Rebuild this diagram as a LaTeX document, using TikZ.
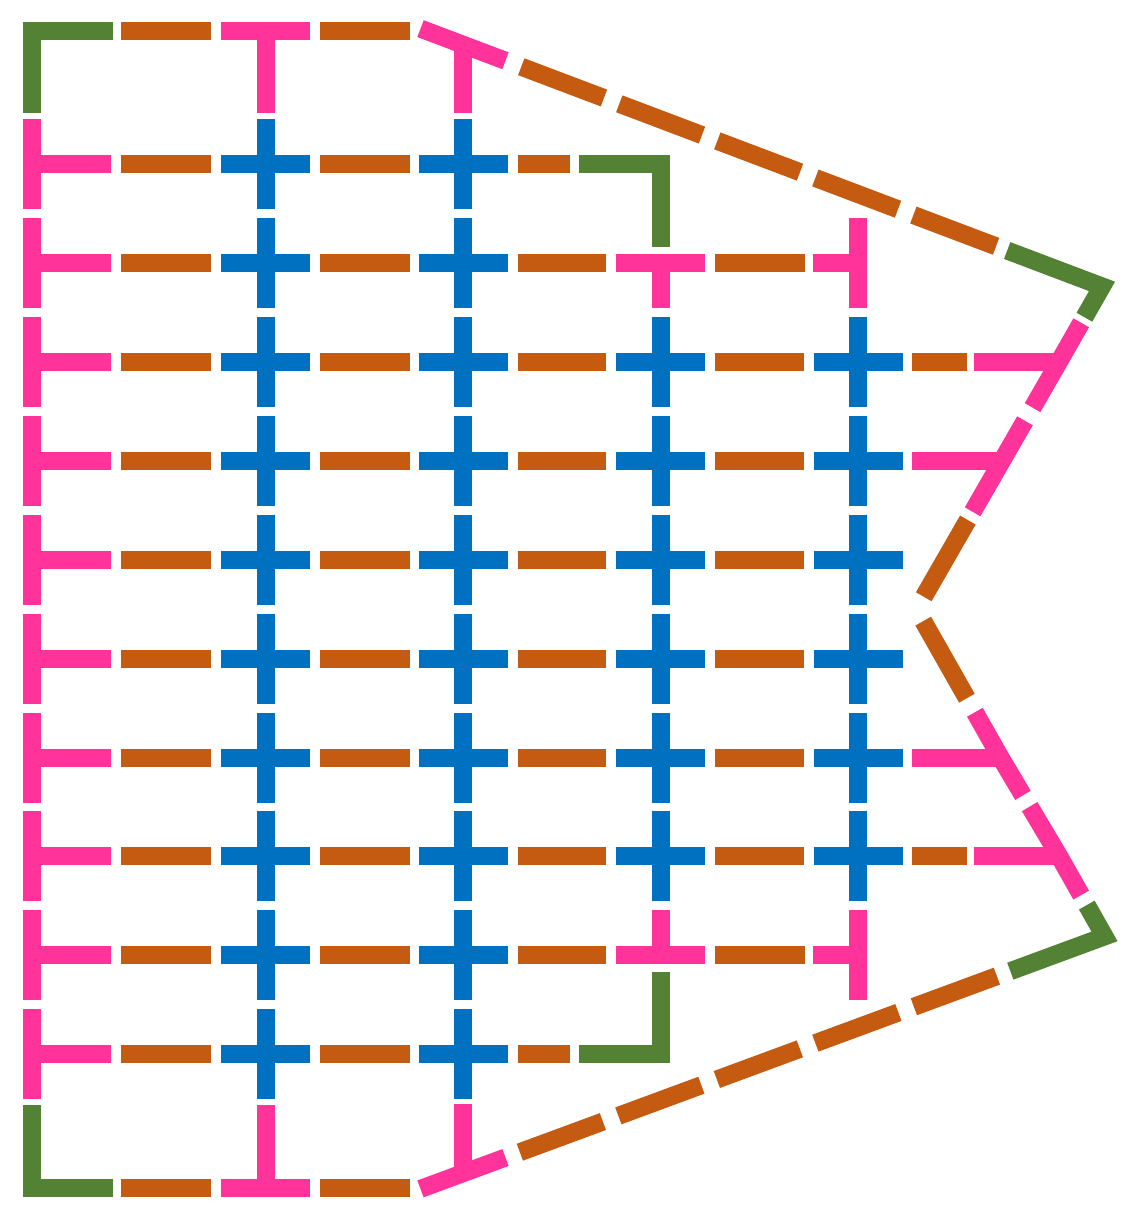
\documentclass[tikz,border=0pt]{standalone}
\usetikzlibrary{calc}
\definecolor{cgreen}{RGB}{84,130,53}
\definecolor{corange}{RGB}{197,90,17}
\definecolor{cpink}{RGB}{255,51,153}
\definecolor{cblue}{RGB}{0,112,192}
\begin{document}
\begin{tikzpicture}[x=1pt,y=-1pt,line cap=butt,line join=miter,miter limit=10,
  seg/.style={line width=18pt},
  gline/.style={seg,draw=cgreen},
  oline/.style={seg,draw=corange},
  pline/.style={seg,draw=cpink},
  bline/.style={seg,draw=cblue}]
\useasboundingbox (0,0) rectangle (1136,1227);
% boundary vertices
\coordinate (Vt) at (463,44.7);
\coordinate (TR) at (1102,286.4);
\coordinate (A) at (1059,361.7);
\coordinate (B) at (1002,460.65);
\coordinate (P) at (916.5,609.3);
\coordinate (C) at (1000.5,757.5);
\coordinate (D) at (1059.3,856.45);
\coordinate (BR) at (1104.5,936.4);
\coordinate (Vb) at (463,1173.2);
% columns 0..2, rows 1..10
\foreach \y in {163.8,262.75,361.7,460.65,559.6,658.55,757.5,856.45,955.4,1054.35} {
  \draw[pline] (31.5,\y-45) -- (31.5,\y+45);
  \draw[pline] (31.5,\y) -- (111,\y);
  \draw[oline] (121,\y) -- (211,\y);
  \draw[oline] (319.5,\y) -- (409.5,\y);
  \foreach \x in {265.5,463} {
    \draw[bline] (\x-44.5,\y) -- (\x+44.5,\y);
    \draw[bline] (\x,\y-45) -- (\x,\y+45);
  }
}
% columns 3..4, rows 3..8
\foreach \y in {361.7,460.65,559.6,658.55,757.5,856.45} {
  \draw[oline] (517.5,\y) -- (606,\y);
  \draw[oline] (714.5,\y) -- (804,\y);
  \foreach \x in {660.5,858} {
    \draw[bline] (\x-44.5,\y) -- (\x+44.5,\y);
    \draw[bline] (\x,\y-45) -- (\x,\y+45);
  }
}
% rows 2 and 9
\foreach \y/\s in {262.75/308.3, 955.4/909.9} {
  \draw[oline] (517.5,\y) -- (606,\y);
  \draw[pline] (660.5,\y) -- (660.5,\s);
  \draw[pline] (615.7,\y) -- (705.3,\y);
  \draw[oline] (714.5,\y) -- (804.5,\y);
  \draw[pline] (812.5,\y) -- (858,\y);
  \draw[pline] (858,\y-45) -- (858,\y+45);
}
% rows 1 and 10
\foreach \y/\s in {163.8/246.7, 1054.35/971.5} {
  \draw[oline] (517.5,\y) -- (569.5,\y);
  \draw[gline] (579.3,\y) -- (660.5,\y) -- (660.5,\s);
}
% rows 0 and 11
\foreach \y/\s in {30.5/113.4, 1188.3/1105} {
  \draw[gline] (112.7,\y) -- (31.5,\y) -- (31.5,\s);
  \draw[oline] (121,\y) -- (211,\y);
  \draw[pline] (265.5,\y) -- (265.5,\s);
  \draw[pline] (221,\y) -- (310,\y);
  \draw[oline] (319.5,\y) -- (409.5,\y);
}
\draw[pline] (Vt) -- (463,113.3);
\draw[pline] (Vb) -- (463,1104);
% stems to the right boundary
\draw[oline] (912,361.7) -- (966.7,361.7);
\draw[pline] (974,361.7) -- (A);
\draw[pline] (912.3,460.65) -- (B);
\draw[pline] (912.3,757.5) -- (C);
\draw[oline] (912,856.45) -- (966.7,856.45);
\draw[pline] (974,856.45) -- (D);
% boundary
\draw[pline] ($(Vt)!-45.4pt!(TR)$) -- ($(Vt)!45.4pt!(TR)$);
\draw[oline,dash pattern=on 88.4pt off 16.4pt] ($(Vt)!62.3pt!(TR)$) -- ($(Vt)!570pt!(TR)$);
\draw[gline] ($(TR)!101.4pt!(Vt)$) -- (TR) -- ($(TR)!35.5pt!(A)$);
\draw[pline] ($(A)!44.8pt!(TR)$) -- (A) -- ($(A)!53pt!(B)$);
\draw[pline] ($(B)!46pt!(A)$) -- (B) -- ($(B)!59pt!(P)$);
\draw[oline] ($(B)!68.5pt!(P)$) -- ($(B)!157pt!(P)$);
\draw[oline] ($(P)!13.6pt!(C)$) -- ($(P)!102.2pt!(C)$);
\draw[pline] ($(C)!52pt!(P)$) -- (C) -- ($(C)!44pt!(D)$);
\draw[pline] ($(D)!58pt!(C)$) -- (D) -- ($(D)!44.4pt!(BR)$);
\draw[gline] ($(BR)!36pt!(D)$) -- (BR) -- ($(BR)!100.4pt!(Vb)$);
\draw[oline,dash pattern=on 88.5pt off 16.5pt] ($(Vb)!60.6pt!(BR)$) -- ($(Vb)!569.3pt!(BR)$);
\draw[pline] ($(Vb)!-45.3pt!(BR)$) -- ($(Vb)!45.3pt!(BR)$);
\end{tikzpicture}
\end{document}
